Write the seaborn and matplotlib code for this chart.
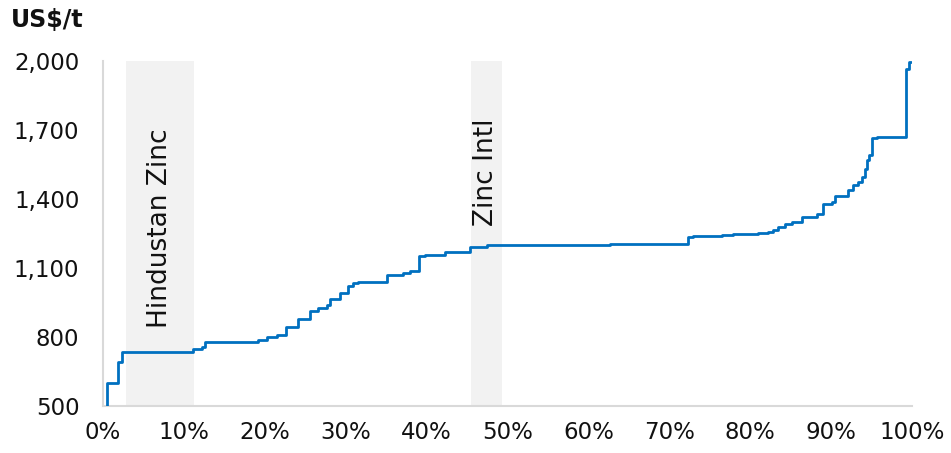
import matplotlib
matplotlib.use("Agg")
import matplotlib.pyplot as plt
import matplotlib.ticker as mticker
import numpy as np
import pandas as pd
import seaborn as sns

# cumulative production share (%) where each cost step starts, and its cost (US$/t)
cum_share = [0.49, 0.49, 1.85, 2.35, 11.12, 12.24, 12.61, 19.16, 20.27, 21.51,
             22.62, 24.10, 25.59, 26.58, 27.69, 28.06, 29.30, 30.28, 30.90, 31.52,
             35.11, 37.08, 37.95, 39.06, 39.80, 42.27, 45.36, 47.47, 62.67, 72.31,
             72.93, 76.51, 77.87, 80.96, 82.20, 82.82, 83.44, 84.30, 85.17, 86.40,
             88.26, 89.00, 90.11, 90.48, 92.09, 92.71, 93.33, 93.82, 94.19, 94.44,
             94.68, 95.05, 95.67, 99.26, 99.63, 99.90]
cost = [500, 600, 691, 735, 748, 757, 778, 785, 800, 809,
        843, 878, 913, 928, 940, 965, 991, 1022, 1035, 1040,
        1070, 1078, 1087, 1152, 1157, 1168, 1190, 1200, 1205, 1233,
        1238, 1242, 1246, 1251, 1258, 1265, 1280, 1290, 1301, 1320,
        1335, 1378, 1388, 1414, 1440, 1461, 1475, 1497, 1533, 1570,
        1591, 1664, 1668, 1968, 1997, 1997]

# highlighted producers: (label, start %, end %)
band_labels = ["Hindustan Zinc", "Zinc Intl"]
band_start = [2.84, 45.5]
band_end = [11.25, 49.3]
label_y = [1274, 1517]

y_ticks = [500, 800, 1100, 1400, 1700, 2000]
x_ticks = list(range(0, 101, 10))

sns.set_theme(style="white")
plt.rcParams["font.family"] = ["DejaVu Sans"]

fig = plt.figure(figsize=(9.51, 4.53), dpi=100)
ax = fig.add_axes([0.1083, 0.1038, 0.8507, 0.7612])

for lab, x0, x1, ly in zip(band_labels, band_start, band_end, label_y):
    ax.axvspan(x0, x1, color="#f2f2f2", zorder=0, lw=0)
    ax.text((x0 + x1) / 2, ly, lab, rotation=90, ha="center", va="center",
            fontsize=19, color="#111111", zorder=1)

df = pd.DataFrame({"share": cum_share, "cost": cost})
sns.lineplot(data=df, x="share", y="cost", ax=ax, sort=False, estimator=None,
             drawstyle="steps-post", color="#0070c0", linewidth=2.0, zorder=3)

ax.set_xlim(0, 100)
ax.set_ylim(500, 2000)
ax.set_xticks(x_ticks)
ax.set_yticks(y_ticks)
ax.xaxis.set_major_formatter(mticker.FuncFormatter(lambda v, p: f"{v:.0f}%"))
ax.yaxis.set_major_formatter(mticker.FuncFormatter(lambda v, p: f"{v:,.0f}"))
ax.tick_params(axis="both", labelsize=16.5, colors="#111111", length=0)
ax.tick_params(axis="y", pad=17)
ax.tick_params(axis="x", pad=11)
ax.set_xlabel("")
ax.set_ylabel("")

for side in ["top", "right"]:
    ax.spines[side].set_visible(False)
for side in ["left", "bottom"]:
    ax.spines[side].set_color("#d9d9d9")
    ax.spines[side].set_linewidth(1.5)

fig.text(0.011, 0.955, "US$/t", fontsize=17, fontweight="bold",
         ha="left", va="center", color="#111111")

fig.savefig("out.png", dpi=100)
